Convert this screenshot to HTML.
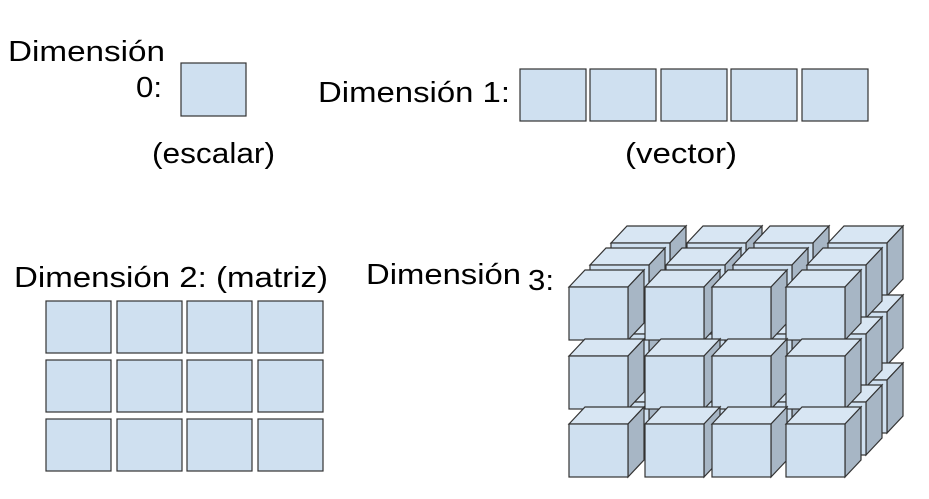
<!DOCTYPE html>
<html><head><meta charset="utf-8"><style>
body{margin:0;background:#fff}
svg text{font-family:"Liberation Sans",sans-serif;font-size:29px;fill:#000}
</style></head><body>
<svg width="929" height="494" viewBox="0 0 929 494">
<text x="8" y="61" textLength="157" lengthAdjust="spacingAndGlyphs">Dimensión</text>
<text x="136" y="97" textLength="26" lengthAdjust="spacingAndGlyphs">0:</text>
<rect x="181" y="63" width="65" height="53" fill="#cfe0f0" stroke="#333" stroke-width="1.2"/>
<text x="152" y="163" textLength="123" lengthAdjust="spacingAndGlyphs">(escalar)</text>
<text x="318" y="102" textLength="192" lengthAdjust="spacingAndGlyphs">Dimensión 1:</text>
<g id="vec"></g>
<text x="625" y="163" textLength="112" lengthAdjust="spacingAndGlyphs">(vector)</text>
<text x="14" y="287" textLength="314" lengthAdjust="spacingAndGlyphs">Dimensión 2: (matriz)</text>
<g id="mat"></g>
<text x="366" y="284" textLength="155" lengthAdjust="spacingAndGlyphs">Dimensión</text>
<text x="528" y="290" textLength="26" lengthAdjust="spacingAndGlyphs">3:</text>
<g id="cube"></g>
</svg>
<script>
const NS="http://www.w3.org/2000/svg";
function el(t,a,p){const e=document.createElementNS(NS,t);for(const k in a)e.setAttribute(k,a[k]);p.appendChild(e);return e;}
const F="#cfe0f0",S="#333",SIDE="#a7b6c5",TOP="#d8e6f3";
const vec=document.getElementById('vec');
[520,590,661,731,802].forEach(x=>{const r=el('rect',{x:x,y:69,width:66,height:52,fill:F,stroke:S,'stroke-width':1.2},vec);

});
const mat=document.getElementById('mat');
[301,360,419].forEach(y=>[46,117,187,258].forEach(x=>{const r=el('rect',{x:x,y:y,width:65,height:52,fill:F,stroke:S,'stroke-width':1.2},mat);

}));
const cube=document.getElementById('cube');
const cols=[569,645,712,786],rows=[287,356,424],W=59,H=53,dx=16,dy=-17;
for(let L=2;L>=0;L--){const ox=L*21,oy=-L*22;
for(let r=0;r<3;r++)for(let c=0;c<4;c++){
const x=cols[c]+ox,y=rows[r]+oy;
const g=el('g',{},cube);


el('polygon',{points:`${x},${y} ${x+dx},${y+dy} ${x+W+dx},${y+dy} ${x+W},${y}`,fill:TOP,stroke:S,'stroke-width':1.2},g);
el('polygon',{points:`${x+W},${y} ${x+W+dx},${y+dy} ${x+W+dx},${y+H+dy} ${x+W},${y+H}`,fill:SIDE,stroke:S,'stroke-width':1.2},g);
el('rect',{x:x,y:y,width:W,height:H,fill:F,stroke:S,'stroke-width':1.2},g);
}}
</script>
</body></html>
